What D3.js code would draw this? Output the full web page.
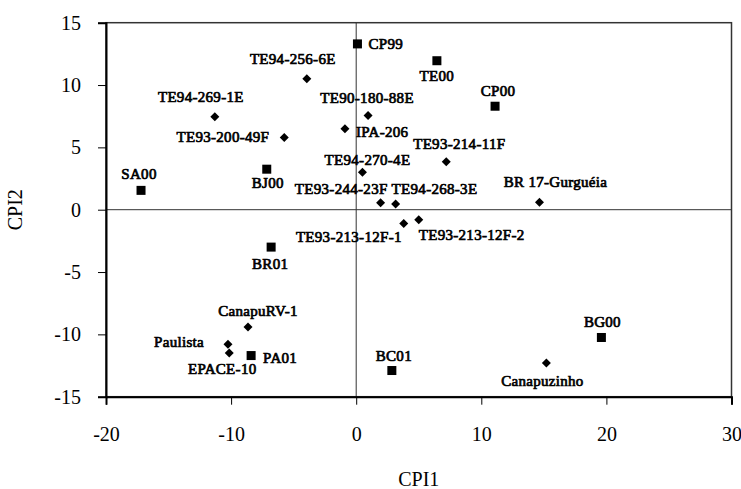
<!DOCTYPE html>
<html>
<head>
<meta charset="utf-8">
<script src="https://cdn.jsdelivr.net/npm/d3@7"></script>
<style>
body { margin: 0; background: #fff; }
svg text { font-family: "Liberation Serif", "Times New Roman", serif; }
</style>
</head>
<body>
<svg id="chart" width="741" height="489"></svg>
<script>
// genotypes, CPI scores, marker type (s = square, d = diamond)
var names = ['CP99', 'TE94-256-6E', 'TE94-269-1E', 'TE93-200-49F', 'IPA-206', 'TE90-180-88E',
    'SA00', 'BJ00', 'TE94-270-4E', 'TE00', 'CP00', 'TE93-214-11F', 'BR 17-Gurguéia',
    'TE93-244-23F', 'TE94-268-3E', 'TE93-213-12F-1', 'TE93-213-12F-2', 'BG00', 'Canapuzinho',
    'BC01', 'BR01', 'CanapuRV-1', 'Paulista', 'EPACE-10', 'PA01'];
var cpi1 = [0.1, -3.95, -11.3, -5.75, -0.9, 0.95, -17.2, -7.15, 0.5, 6.45, 11.1, 7.2, 14.65,
    1.95, 3.15, 3.8, 5.0, 19.6, 15.2, 2.85, -6.8, -8.65, -10.25, -10.15, -8.4];
var cpi2 = [13.3, 10.5, 7.45, 5.8, 6.5, 7.55, 1.55, 3.25, 3.0, 11.95, 8.3, 3.85, 0.6,
    0.55, 0.45, -1.1, -0.8, -10.25, -12.3, -12.9, -3.0, -9.4, -10.8, -11.5, -11.7];
var kind = ['s', 'd', 'd', 'd', 'd', 'd', 's', 's', 'd', 's', 's', 'd', 'd',
    'd', 'd', 'd', 'd', 's', 'd', 's', 's', 'd', 'd', 'd', 's'];

var xTicks = [-20, -10, 0, 10, 20, 30];
var yTicks = [-15, -10, -5, 0, 5, 10, 15];

// label placement: dx, dy from the marker, text-anchor
var labelPos = [
    [11, 5, 'start'], [-14, -15, 'middle'], [-14, -15, 'middle'], [-15, 5, 'end'],
    [11, 8, 'start'], [-1, -13, 'middle'], [-2, -11, 'middle'], [1, 19, 'middle'],
    [5, -7, 'middle'], [0, 20, 'middle'], [3, -10, 'middle'], [13, -13, 'middle'],
    [16, -15, 'middle'], [7, -9, 'end'], [-4, -10, 'start'], [-2, 19, 'end'],
    [0, 20, 'start'], [1, -10, 'middle'], [-4, 23, 'middle'], [2, -10, 'middle'],
    [-1, 22, 'middle'], [10, -11, 'middle'], [-24, 3, 'end'], [-7, 21, 'middle'],
    [12, 7, 'start']
];

var svg = d3.select('#chart');

var x = d3.scaleLinear().domain([-20, 30]).range([106, 731.5]);
var y = d3.scaleLinear().domain([-15, 15]).range([396.7, 22.7]);

// frame
svg.append('rect')
    .attr('x', x(-20)).attr('y', y(15))
    .attr('width', x(30) - x(-20)).attr('height', y(-15) - y(15))
    .attr('fill', 'none').attr('stroke', '#333').attr('stroke-width', 1.5);

// zero lines
svg.append('line')
    .attr('x1', x(0)).attr('x2', x(0)).attr('y1', y(15)).attr('y2', y(-15))
    .attr('stroke', '#333').attr('stroke-width', 1);
svg.append('line')
    .attr('x1', x(-20)).attr('x2', x(30)).attr('y1', y(0)).attr('y2', y(0))
    .attr('stroke', '#333').attr('stroke-width', 1);

var xAxis = svg.append('g')
    .attr('transform', 'translate(0,' + y(-15) + ')')
    .call(d3.axisBottom(x).tickValues(xTicks).tickSize(8).tickPadding(22).tickFormat(d3.format('d')));
var yAxis = svg.append('g')
    .attr('transform', 'translate(' + x(-20) + ',0)')
    .call(d3.axisLeft(y).tickValues(yTicks).tickSize(8).tickPadding(17).tickFormat(d3.format('d')));

[xAxis, yAxis].forEach(function (g) {
    g.select('.domain').attr('stroke', '#000').attr('stroke-width', 2);
    g.selectAll('.tick line').attr('stroke', '#000').attr('stroke-width', 1);
    g.selectAll('.tick text')
        .attr('fill', '#000')
        .style('font-size', '20px')
        .style('font-family', '"Liberation Serif", serif');
});
// minus sign as plain hyphen like the original
svg.selectAll('.tick text').text(function (d) { return String(d); });

// axis titles
svg.append('text')
    .attr('x', (x(-20) + x(30)) / 2).attr('y', 486)
    .attr('text-anchor', 'middle')
    .style('font-size', '20px')
    .text('CPI1');
svg.append('text')
    .attr('transform', 'translate(22,' + (y(15) + y(-15)) / 2 + ') rotate(-90)')
    .attr('text-anchor', 'middle')
    .style('font-size', '20px')
    .text('CPI2');

// markers
var pts = svg.append('g').selectAll('g')
    .data(names.map(function (n, i) {
        return { name: n, cx: cpi1[i], cy: cpi2[i], k: kind[i], lp: labelPos[i] };
    }))
    .join('g')
    .attr('transform', function (d) { return 'translate(' + x(d.cx) + ',' + y(d.cy) + ')'; });

pts.filter(function (d) { return d.k === 's'; })
    .append('rect')
    .attr('x', -4.5).attr('y', -4.5).attr('width', 9).attr('height', 9)
    .attr('fill', '#000');

pts.filter(function (d) { return d.k === 'd'; })
    .append('path')
    .attr('d', 'M0,-4.5L4.5,0L0,4.5L-4.5,0Z')
    .attr('fill', '#000');

// bold serif face is not installed, so thicken the regular one with a stroke
pts.append('text')
    .attr('x', function (d) { return d.lp[0]; })
    .attr('y', function (d) { return d.lp[1]; })
    .attr('text-anchor', function (d) { return d.lp[2]; })
    .attr('fill', '#000')
    .attr('stroke', '#000')
    .attr('stroke-width', 0.7)
    .style('font-family', '"Liberation Serif", serif')
    .style('font-size', '15px')
    .style('letter-spacing', '0.3px')
    .text(function (d) { return d.name; });
</script>
</body>
</html>
